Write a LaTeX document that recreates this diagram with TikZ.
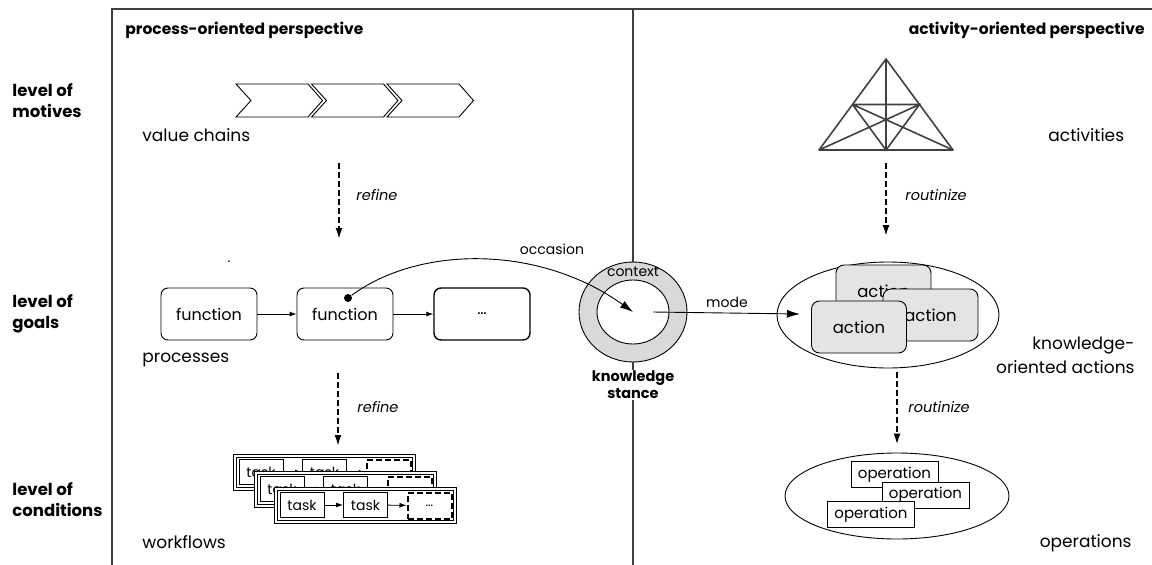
\documentclass[tikz,border=0pt]{standalone}
\usepackage{fontspec}
\setmainfont{Poppins}
\usepackage{xcolor}
\usepackage{tikz}
\usetikzlibrary{arrows,arrows.meta}
\usetikzlibrary{shapes.geometric}

\definecolor{framegray}{HTML}{404040}
\definecolor{ringgray}{HTML}{D9D9D9}
\definecolor{actgray}{HTML}{E4E4E4}

\begin{document}
\begin{tikzpicture}[x=1pt,y=-1pt,line width=0.9pt,
    lbl/.style={font=\fontsize{17}{20}\selectfont, inner sep=0pt},
    tiny/.style={font=\fontsize{14}{16}\selectfont, inner sep=0pt},
    verb/.style={font=\fontsize{14.5}{16}\selectfont\itshape, inner sep=0pt, anchor=west},
    hdr/.style={font=\fontsize{15.5}{18}\selectfont\bfseries, inner sep=0pt},
    lvl/.style={font=\fontsize{16.5}{21}\selectfont\bfseries, align=left, anchor=west, inner sep=0pt},
    frame/.style={draw=framegray, line width=1.4pt},
    arr/.style={-{Latex[length=7pt,width=5pt]}},
    bigarr/.style={-{Latex[length=13pt,width=8pt]}},
    dasharr/.style={-{Latex[length=11pt,width=7pt]}, line width=1.8pt, dash pattern=on 6pt off 3pt},
    fbox/.style={draw, rounded corners=7pt, minimum width=96pt, minimum height=52pt, font=\fontsize{16}{18}\selectfont},
    abox/.style={draw, fill=actgray, rounded corners=8pt, minimum width=95pt, minimum height=52pt, font=\fontsize{16.5}{18}\selectfont},
    opbox/.style={draw, fill=white, minimum width=87pt, minimum height=26pt, inner sep=0pt, font=\fontsize{15}{16}\selectfont},
    wlayer/.style={draw, double, double distance=2pt, fill=white, minimum width=179pt, minimum height=33pt, inner sep=0pt},
    taskbox/.style={draw, fill=white, minimum width=44pt, minimum height=25pt, inner sep=0pt, font=\fontsize{14}{15}\selectfont},
    dotbox/.style={draw, line width=2pt, dash pattern=on 6pt off 3pt, fill=white, minimum width=44pt, minimum height=26pt, inner sep=0pt, font=\fontsize{13}{15}\selectfont}
  ]
    \useasboundingbox (0,0) rectangle (1152,565);

    % frame of the two perspectives
    \coordinate (tl) at (112,9);
    \coordinate (tr) at (1152,9);
    \coordinate (bl) at (112,565);
    \coordinate (tm) at (633,9);
    \coordinate (bm) at (633,565);
    \draw[frame] (tr) -- (tl) -- (bl);
    \draw[frame] (tm) -- (bm);

    \node[hdr, anchor=west] (phead) at (125,30) {process-oriented perspective};
    \node[hdr, anchor=east] (ahead) at (1145,30) {activity-oriented perspective};

    \node[lvl] (lmot) at (12,101) {level of\\motives};
    \node[lvl] (lgoal) at (12,314) {level of\\goals};
    \node[lvl] (lcond) at (12,500) {level of\\conditions};

    % value chains
    \foreach \i in {0,1,2}{
      \draw[fill=white] ({236+75.5*\i},84) -- ++(72,0) -- ++(14.5,16.5) -- ++(-14.5,16.5) -- ++(-72,0) -- ++(15,-16.5) -- cycle;
    };
    \node[lbl, anchor=west] (vchain) at (142,135) {value chains};

    \coordinate (ref1a) at (339,163);
    \coordinate (ref1b) at (339,239);
    \draw[dasharr] (ref1a) -- (ref1b);
    \node[verb] (ref1) at (356,195) {refine};

    % processes
    \node[fbox] (f1) at (209,314) {function};
    \node[fbox] (f2) at (345,314) {function};
    \node[fbox, line width=1.4pt] (f3) at (482,314) {\ldots};
    \draw[arr] (f1) -- (f2);
    \draw[arr] (f2) -- (f3);
    \node[tiny] (stray) at (229,262) {.};
    \node[lbl, anchor=west] (procs) at (142,360) {processes};

    \coordinate (ref2a) at (338,373);
    \coordinate (ref2b) at (338,446);
    \draw[dasharr] (ref2a) -- (ref2b);
    \node[verb] (ref2) at (357,407) {refine};

    % workflows
    \foreach \i/\L/\T in {1/235/456, 2/256/473, 3/276/489}{
      \node[wlayer] (w\i) at (\L+89.5,\T+16.5) {};
      \node[taskbox] (w\i a) at (\L+26,\T+16) {task};
      \node[taskbox] (w\i b) at (\L+89.5,\T+16) {task};
      \node[dotbox] (w\i c) at (\L+153.5,\T+16.5) {\ldots};
      \draw[arr] (w\i a) -- (w\i b);
      \draw[arr] (w\i b) -- (w\i c);
    };
    \node[lbl, anchor=west] (wflow) at (142,542) {workflows};

    % knowledge stance
    \node[draw, ellipse, fill=ringgray, minimum width=108pt, minimum height=100pt] (stance) at (633,312) {};
    \node[draw, ellipse, fill=white, minimum width=72pt, minimum height=64pt] (core) at (633,312) {};
    \node[tiny] (ctx) at (633,272) {context};
    \node[font=\fontsize{14.5}{17}\selectfont\bfseries, align=center, fill=white, inner sep=1pt] (kst) at (633,385) {knowledge\\stance};

    \node[circle, fill, inner sep=0pt, minimum size=8pt] (hook) at (348,298) {};
    \draw[bigarr] (hook) .. controls (420,245) and (540,245) .. (core.center);
    \node[tiny] (occ) at (552,249) {occasion};

    % activities
    \coordinate (apex) at (886,59);
    \coordinate (cl) at (819,150);
    \coordinate (cr) at (953,150);
    \coordinate (ml) at (852.5,104.5);
    \coordinate (mr) at (919.5,104.5);
    \coordinate (mb) at (886,150);
    \draw[framegray, line width=1.6pt, line join=round] (apex) -- (cl) -- (cr) -- cycle;
    \draw[framegray, line width=1.6pt] (apex) -- (mb) (ml) -- (mr) -- (mb) -- (ml) (ml) -- (cr) (mr) -- (cl);
    \node[lbl, anchor=west] (actv) at (1048,135) {activities};

    \coordinate (rou1a) at (886,163);
    \coordinate (rou1b) at (886,236);
    \draw[dasharr] (rou1a) -- (rou1b);
    \node[verb] (rou1) at (905,195) {routinize};

    % knowledge-oriented actions
    \node[draw, ellipse, minimum width=222pt, minimum height=106pt] (acts) at (888,315) {};
    \node[abox] (a1) at (883.5,291) {action};
    \node[abox] (a2) at (930.5,315) {action};
    \node[abox] (a3) at (859,327) {action};
    \coordinate (modeend) at (800,314);
    \draw[bigarr] ([xshift=20pt]core.center) -- (modeend);
    \node[tiny] (mode) at (727,302) {mode};
    \node[lbl, anchor=east, align=right, font=\fontsize{17}{24}\selectfont] (koa) at (1135,355) {knowledge-\\oriented actions};

    % operations
    \node[draw, ellipse, minimum width=224pt, minimum height=86pt] (ops) at (897,496) {};
    \draw[dasharr, shorten <=4pt, shorten >=8pt] (acts.south -| ops.north) -- (ops.north);
    \node[verb] (rou2) at (908,407) {routinize};
    \node[opbox] (o1) at (894.5,474.5) {operation};
    \node[opbox] (o2) at (925.5,495) {operation};
    \node[opbox] (o3) at (871,514.5) {operation};
    \node[lbl, anchor=east] (opers) at (1132,543) {operations};
  \end{tikzpicture}
\end{document}
